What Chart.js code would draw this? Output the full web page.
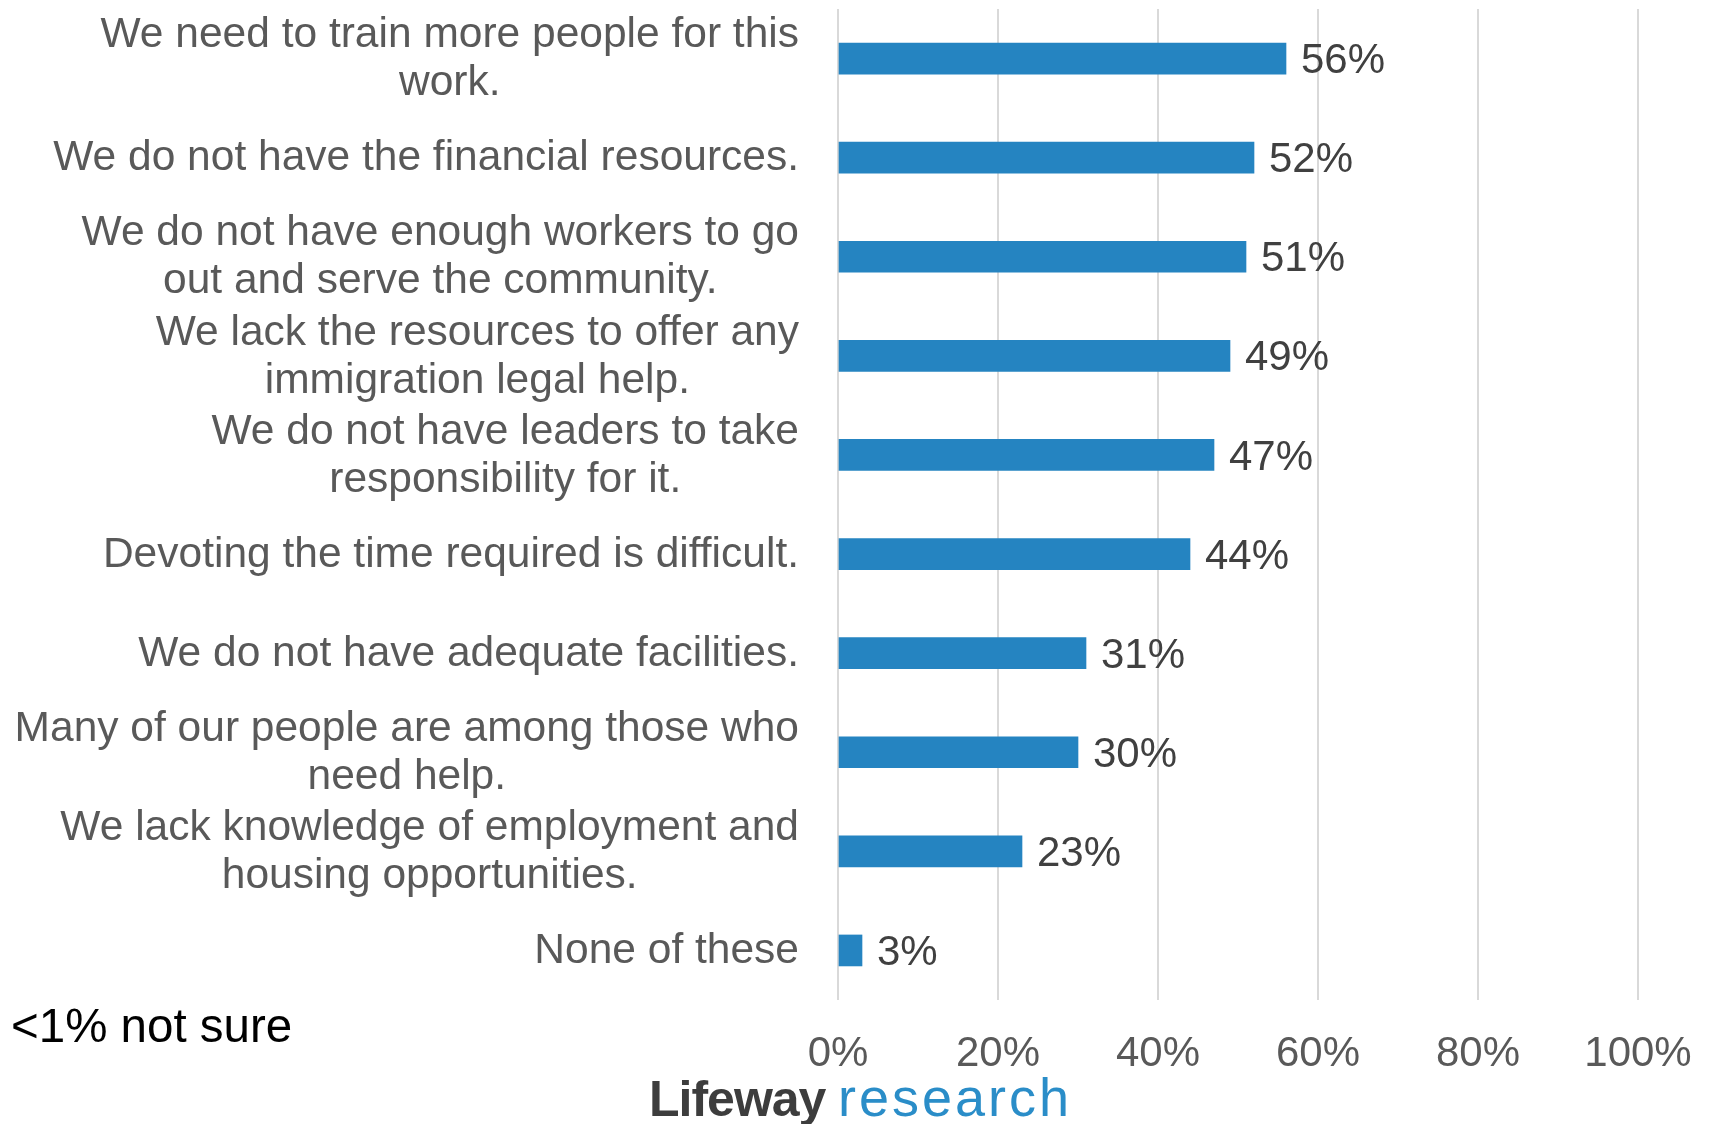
<!DOCTYPE html>
<html>
<head>
<meta charset="utf-8">
<script src="https://cdn.jsdelivr.net/npm/chart.js@4"></script>
<style>
  html, body { margin: 0; padding: 0; background: #fff; }
  #wrap { width: 1710px; height: 1124px; position: relative; }
</style>
</head>
<body>
<div id="wrap"><canvas id="barChart"></canvas></div>
<script>
const categories = [
  ['We need to train more people for this', 'work.'],
  ['We do not have the financial resources.'],
  ['We do not have enough workers to go', 'out and serve the community.'],
  ['We lack the resources to offer any', 'immigration legal help.'],
  ['We do not have leaders to take', 'responsibility for it.'],
  ['Devoting the time required is difficult.'],
  ['We do not have adequate facilities.'],
  ['Many of our people are among those who', 'need help.'],
  ['We lack knowledge of employment and', 'housing opportunities.'],
  ['None of these'],
]
const values = [56, 52, 51, 49, 47, 44, 31, 30, 23, 3]
const xTicks = [0, 20, 40, 60, 80, 100]
const footNote = '<1% not sure'

const FONT = '"Liberation Sans", Arial, sans-serif'

document.addEventListener('DOMContentLoaded', function () {
  const ctx = document.getElementById('barChart').getContext('2d')

  // category labels: block right-aligned to the axis, lines centered inside the block
  const categoryLabels = {
    id: 'categoryLabels',
    afterDraw(chart) {
      const c = chart.ctx
      const yScale = chart.scales.y
      c.save()
      c.font = '42.5px ' + FONT
      c.fillStyle = '#595959'
      c.textAlign = 'center'
      c.textBaseline = 'middle'
      const right = chart.chartArea.left - 39
      categories.forEach((lines, i) => {
        const y = yScale.getPixelForValue(i) + 1
        const w = Math.max(...lines.map(l => c.measureText(l).width))
        const cx = right - w / 2
        lines.forEach((line, j) => {
          c.fillText(line, cx, y + (j - (lines.length - 1) / 2) * 48)
        })
      })
      c.restore()
    },
  }

  // value labels at the end of each bar
  const valueLabels = {
    id: 'valueLabels',
    afterDatasetsDraw(chart) {
      const c = chart.ctx
      const meta = chart.getDatasetMeta(0)
      c.save()
      c.font = '42px ' + FONT
      c.fillStyle = '#404040'
      c.textAlign = 'left'
      c.textBaseline = 'middle'
      meta.data.forEach((bar, i) => {
        c.fillText(values[i] + '%', bar.x + 15, bar.y + 3)
      })
      c.restore()
    },
  }

  // footnote and logo
  const extras = {
    id: 'extras',
    afterDraw(chart) {
      const c = chart.ctx
      c.save()
      c.font = '47.5px ' + FONT
      c.fillStyle = '#000'
      c.textAlign = 'left'
      c.textBaseline = 'middle'
      c.fillText(footNote, 11, 1029)

      c.textBaseline = 'alphabetic'
      c.font = 'bold 50px ' + FONT
      c.fillStyle = '#3d3d3d'
      c.letterSpacing = '-1px'
      c.fillText('Lifeway', 649, 1116)
      c.font = '54px ' + FONT
      c.fillStyle = '#2a8dc8'
      c.letterSpacing = '3px'
      c.fillText('research', 838, 1116)
      c.restore()
    },
  }

  const data = {
    labels: categories,
    datasets: [
      {
        label: 'Share',
        data: values,
        backgroundColor: '#2584c1',
        borderWidth: 0,
        barThickness: 31,
      },
    ],
  }

  const config = {
    type: 'bar',
    data: data,
    options: {
      indexAxis: 'y',
      responsive: true,
      maintainAspectRatio: false,
      animation: false,
      layout: {
        padding: { top: 9, right: 72, bottom: 43, left: 0 },
      },
      plugins: {
        legend: { display: false },
        tooltip: { enabled: false },
      },
      scales: {
        x: {
          min: 0,
          max: 100,
          afterBuildTicks(scale) {
            scale.ticks = xTicks.map(v => ({ value: v }))
          },
          afterFit(scale) {
            scale.height = 81
            scale.paddingLeft = 0
            scale.paddingRight = 0
          },
          grid: {
            color: '#d9d9d9',
            lineWidth: 2,
            drawTicks: false,
          },
          border: { display: false },
          ticks: {
            padding: 29,
            color: '#595959',
            font: { family: FONT, size: 42 },
            callback: v => v + '%',
          },
        },
        y: {
          grid: { display: false },
          border: { display: false },
          ticks: { display: false },
          afterFit(scale) {
            scale.width = 838
          },
        },
      },
    },
    plugins: [valueLabels, categoryLabels, extras],
  }

  const barChart = new Chart(ctx, config)
})
</script>
</body>
</html>
